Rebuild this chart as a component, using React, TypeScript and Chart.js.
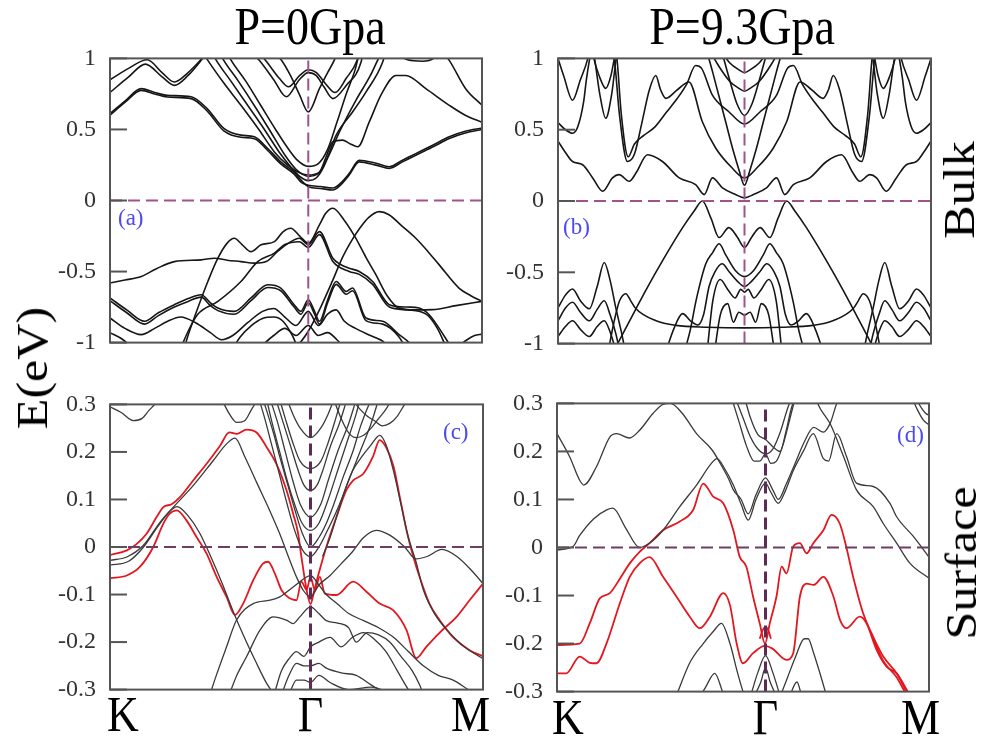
import React, { useEffect, useRef } from "react";
import { Chart, registerables } from "chart.js";

Chart.register(...registerables);

type Pt = [number, number];

// ---------------- axis data ----------------
const bulkTicks = [-1, -0.5, 0, 0.5, 1];
const bulkTickLabels = ["-1", "-0.5", "0", "0.5", "1"];
const surfTicks = [-0.3, -0.2, -0.1, 0, 0.1, 0.2, 0.3];
const surfTickLabels = ["-0.3", "-0.2", "-0.1", "0", "0.1", "0.2", "0.3"];
const kLabels = ["K", "Γ", "M"];
const titles = ["P=0Gpa", "P=9.3Gpa"];
const panelTags = ["(a)", "(b)", "(c)", "(d)"];
const rowLabels = ["Bulk", "Surface"];
const yTitle = "E(eV)";

// position of Γ along each path (0 = K, 100 = M)
const gammaA = 53.3;
const gammaB = 50;
const gammaC = 53.75;
const gammaD = 56.05;

// ---------------- panel (a): bulk, P = 0 ----------------
const a_c1: Pt[] = [[0,0.85],[5,0.93],[10,0.99],[14,0.9],[17.3,0.834],[21,0.9],[24.4,0.99],[26,1.04]];
const a_c2: Pt[] = [[0,0.76],[5,0.87],[9.5,0.96],[14,0.87],[17.3,0.81],[21,0.88],[24,0.97],[26,1.04]];
const a_c3: Pt[] = [[0,0.612],[4,0.7],[8.4,0.787],[12,0.76],[15.4,0.74],[21.8,0.73],[26.1,0.647],[30.6,0.507],[35.2,0.46],[38.8,0.448],[42.4,0.366],[45.9,0.272],[49.5,0.2],[51.5,0.14],[53.3,0.097],[56.5,0.085],[59.9,0.074],[62,0.11],[64.3,0.179],[67,0.272],[71.5,0.249],[75.1,0.226],[78.5,0.27],[82.2,0.319],[87,0.38],[91.2,0.436],[95.5,0.475],[100,0.5]];
const a_c3b: Pt[] = [[0,0.6],[4,0.69],[8.4,0.775],[12,0.75],[15.4,0.728],[21.8,0.717],[26.1,0.63],[30.6,0.49],[35.2,0.445],[38.8,0.435],[42.4,0.352],[45.9,0.258],[49.5,0.186],[51.5,0.125],[53.3,0.108],[56.5,0.098],[59.9,0.088],[62,0.122],[64.3,0.19],[67,0.283],[71.5,0.262],[75.1,0.238],[78.5,0.282],[82.2,0.33],[87,0.392],[91.2,0.448],[95.5,0.487],[100,0.51]];
const a_c4: Pt[] = [[25,1.04],[26.3,0.986],[30.5,0.83],[35.2,0.67],[40,0.5],[44.2,0.342],[47.7,0.25],[50.5,0.2],[53.3,0.179],[56.3,0.2],[58,0.3],[59.9,0.413],[62.5,0.425],[64.5,0.4],[66.6,0.378],[69.7,0.553],[73,0.75],[76.9,0.88],[79.5,0.88],[84.9,0.787],[91.2,0.67],[95.5,0.6],[100,0.55]];
const a_c5: Pt[] = [[27.5,1.04],[28.5,0.99],[32.5,0.84],[37,0.67],[41.5,0.5],[45.5,0.34],[48.5,0.24],[51,0.17],[53.3,0.14],[55.5,0.16],[57.5,0.24],[60.8,0.46],[65.2,0.623],[68.8,0.763],[73.3,0.974],[74,1.04]];
const a_c6: Pt[] = [[29.5,1.04],[30.5,0.99],[34.5,0.84],[39,0.66],[43.5,0.47],[47,0.32],[50,0.22],[53.3,0.17],[56,0.19],[58.5,0.3],[62,0.5],[66,0.7],[70,0.88],[72,0.99],[73,1.04]];
const a_c7: Pt[] = [[31.5,1.04],[32.5,0.99],[36.5,0.84],[40.5,0.67],[44.5,0.5],[47.5,0.38],[50.5,0.28],[53.3,0.24],[56,0.26],[58.5,0.36],[61,0.55],[63.5,0.75],[66,0.93],[67,1.04]];
const a_c8: Pt[] = [[44,1.04],[46,0.99],[48.5,0.88],[50.9,0.747],[53.3,0.623],[56.3,0.787],[58.5,0.9],[60.5,1.0],[61,1.04]];
const a_c9: Pt[] = [[38,1.04],[40,0.99],[44,0.85],[47.4,0.73],[50.9,0.85],[53.3,0.9],[55.4,0.88],[57.5,0.8],[59.9,0.717],[63.5,0.81],[67.5,0.974],[68,1.04]];
const a_c10: Pt[] = [[40,1.04],[42,0.98],[45.5,0.86],[48,0.8],[51,0.88],[53.3,0.92],[55.5,0.9],[58,0.82],[60.5,0.76],[63.5,0.86],[66.5,0.99],[67,1.04]];
const a_c11: Pt[] = [[89.5,1.04],[91.2,0.986],[95.6,0.787],[100,0.67]];
const a_c12: Pt[] = [[76,1.04],[80,0.99],[84,0.98],[87,1.0],[88,1.04]];

const a_v1: Pt[] = [[20,-1.04],[20.5,-0.99],[23.6,-0.757],[26.3,-0.57],[29,-0.406],[31.5,-0.3],[33.4,-0.266],[35.5,-0.31],[37.9,-0.36],[40.6,-0.312],[44.2,-0.289],[46.5,-0.22],[48.6,-0.195],[51,-0.25],[53.3,-0.3],[56.3,-0.172],[58,-0.09],[59.9,-0.055],[63,-0.14],[66.1,-0.266],[68.8,-0.4],[71.5,-0.523],[74.5,-0.67],[77.7,-0.757],[82,-0.77],[86.7,-0.768],[93,-0.74],[100,-0.71]];
const a_v2: Pt[] = [[50,-1.04],[53.3,-0.92],[56.3,-0.77],[59.9,-0.56],[62.5,-0.4],[65,-0.28],[67,-0.2],[69.5,-0.12],[72.4,-0.078],[75,-0.1],[78.5,-0.18],[82.2,-0.266],[85.5,-0.36],[88.5,-0.453],[93.8,-0.616],[97,-0.67],[100,-0.71]];
const a_v3: Pt[] = [[0,-0.581],[4,-0.56],[8.4,-0.535],[12.5,-0.48],[17.3,-0.43],[24.5,-0.418],[28.1,-0.406],[31.5,-0.42],[35.2,-0.43],[38.8,-0.441],[42,-0.43],[45,-0.36],[48,-0.3],[50.9,-0.266],[53.3,-0.31],[56.3,-0.219],[59.9,-0.406],[62,-0.45],[64.3,-0.476],[67,-0.5],[70.6,-0.57],[75.1,-0.733],[80,-0.75],[83.1,-0.757],[85.8,-0.804],[88.5,-0.9],[91.2,-1.01],[92,-1.04]];
const a_v3b: Pt[] = [[19,-1.04],[21,-0.92],[23.6,-0.8],[29,-0.71],[35.2,-0.57],[39.7,-0.43],[44.2,-0.37],[47,-0.31],[50.9,-0.29],[53.3,-0.33],[56.3,-0.24],[59.9,-0.43],[64.3,-0.5],[67,-0.52],[70.6,-0.59],[75.1,-0.75],[80,-0.77],[85,-0.8],[88,-0.9],[90.5,-1.04]];
const a_v4: Pt[] = [[0,-0.686],[4.5,-0.77],[9.3,-0.85],[13,-0.79],[17.3,-0.733],[21,-0.69],[24.5,-0.663],[27,-0.72],[29,-0.757],[33.4,-0.78],[37.9,-0.686],[42.4,-0.593],[45.9,-0.616],[49.5,-0.733],[51.3,-0.78],[53.3,-0.698],[55,-0.78],[56.3,-0.85],[58.5,-0.7],[60.8,-0.57],[63.5,-0.64],[65.2,-0.616],[68.8,-0.827],[73.3,-0.85],[77.7,-0.944],[80.4,-1.0],[81.5,-1.04]];
const a_v4b: Pt[] = [[0,-0.705],[4.5,-0.79],[9.3,-0.87],[13,-0.81],[17.3,-0.75],[21,-0.71],[24.5,-0.68],[27,-0.74],[29,-0.775],[33.4,-0.8],[37.9,-0.705],[42.4,-0.612],[45.9,-0.635],[49.5,-0.75],[51.3,-0.8],[53.3,-0.72],[55,-0.8],[56.3,-0.87],[58.5,-0.72],[60.8,-0.59],[63.5,-0.66],[65.2,-0.635],[68.8,-0.845],[73.3,-0.87],[77.7,-0.96],[79.5,-1.04]];
const a_v5: Pt[] = [[0,-0.827],[4,-0.9],[8.4,-0.944],[12,-0.9],[15.5,-0.85],[19,-0.82],[23,-0.86],[27,-0.93],[30,-0.98],[33,-0.95],[37,-0.86],[41,-0.78],[44,-0.76],[47,-0.82],[50,-0.88],[53.3,-0.78],[56,-0.88],[58.5,-0.8],[60.8,-0.77],[63,-0.85],[66,-0.9],[70,-0.95],[73.3,-0.99],[75,-1.04]];
const a_v6: Pt[] = [[0,-0.93],[3.5,-0.98],[6,-1.04]];
const a_v7: Pt[] = [[40,-1.04],[44,-0.95],[47,-0.9],[50,-0.95],[53.3,-0.88],[56,-0.95],[58.5,-0.93],[61,-0.98],[63,-1.04]];
const a_v8: Pt[] = [[33,-1.04],[35,-0.96],[38,-0.88],[41,-0.83],[44,-0.82],[46.5,-0.85],[49,-0.95],[50.5,-1.04]];
const a_v9: Pt[] = [[93,-1.04],[96,-0.98],[98,-0.95],[100,-0.94]];

// ---------------- panel (b): bulk, P = 9.3 GPa ----------------
const b_c1: Pt[] = [[0,0.42],[2,0.34],[3.9,0.277],[6.6,0.254],[9.3,0.162],[12,0.068],[14.6,0.162],[16.4,0.185],[19.1,0.138],[20.9,0.196],[24,0.324],[28,0.277],[32.5,0.162],[36.9,0.115],[39.2,0.045],[41.4,0.162],[44.1,0.092],[47.6,0.045],[50,0.022],[52.4,0.045],[55.9,0.092],[58.6,0.162],[60.8,0.045],[63.1,0.115],[67.5,0.162],[72,0.277],[76,0.324],[79.1,0.196],[80.9,0.138],[83.6,0.185],[85.4,0.162],[88,0.068],[90.7,0.162],[93.4,0.254],[96.1,0.277],[98,0.34],[100,0.42]];
const b_c2: Pt[] = [[14.8,1.04],[15.1,1.0],[16.5,0.6],[18.6,0.277],[20.5,0.33],[22.5,0.55],[24.5,0.78],[26.2,0.88],[27.5,0.78],[28.9,0.72],[32,0.78],[35.1,0.835],[38.7,0.556],[42.3,0.37],[46.7,0.231],[50,0.162],[53.3,0.231],[57.7,0.37],[61.3,0.556],[64.9,0.835],[68,0.78],[71.1,0.72],[72.5,0.78],[73.8,0.88],[75.5,0.78],[77.5,0.55],[79.5,0.33],[81.4,0.277],[83.5,0.6],[84.9,1.0],[85.2,1.04]];
const b_c3: Pt[] = [[15.5,1.04],[15.8,1.0],[17,0.6],[18.8,0.31],[20.5,0.4],[23,0.46],[26,0.52],[29,0.62],[32,0.72],[34.5,0.82],[36.9,0.95],[38.5,0.93],[41.4,0.742],[45.8,0.626],[50,0.54],[54.2,0.626],[58.6,0.742],[61.5,0.93],[63.1,0.95],[65.5,0.82],[68,0.72],[71,0.62],[74,0.52],[77,0.46],[79.5,0.4],[81.2,0.31],[83,0.6],[84.2,1.0],[84.5,1.04]];
const b_c4: Pt[] = [[41,1.04],[43,0.95],[46,0.84],[48.5,0.79],[50,0.77],[51.5,0.79],[54,0.84],[57,0.95],[59,1.04]];
const b_c5: Pt[] = [[44,1.04],[46,0.97],[48.5,0.92],[50,0.9],[51.5,0.92],[54,0.97],[56,1.04]];
const b_c6: Pt[] = [[40,1.04],[41.5,0.9],[43,0.75],[45,0.55],[47,0.35],[48.5,0.22],[50,0.11],[51.5,0.22],[53,0.35],[55,0.55],[57,0.75],[58.5,0.9],[60,1.04]];
const b_c7: Pt[] = [[44,1.04],[46,0.85],[48,0.68],[50,0.6],[52,0.68],[54,0.85],[56,1.04]];
const b_t1: Pt[] = [[0,1.0],[1.5,0.88],[3.9,0.707],[6,0.85],[8,1.0],[8.3,1.04]];
const b_t2: Pt[] = [[0,0.55],[2,0.5],[3.9,0.475],[5.3,0.52],[6.9,0.7],[7.6,0.85],[8.5,1.0],[8.8,1.04]];
const b_t3: Pt[] = [[9.3,1.04],[9.6,1.0],[11,0.88],[12.8,0.79],[14.2,0.88],[15.1,1.0],[15.4,1.04]];
const b_t4: Pt[] = [[9.5,1.04],[9.8,1.0],[11.2,0.75],[12.8,0.58],[14.4,0.75],[15.6,1.0],[15.9,1.04]];
const b_t5: Pt[] = [[91.7,1.04],[92,1.0],[94,0.85],[96.1,0.707],[98.5,0.88],[100,1.0]];
const b_t6: Pt[] = [[91.2,1.04],[91.5,1.0],[92.4,0.85],[93.1,0.7],[94.7,0.52],[96.1,0.475],[98,0.5],[100,0.55]];
const b_t7: Pt[] = [[84.6,1.04],[84.9,1.0],[85.8,0.88],[87.2,0.79],[89,0.88],[90.4,1.0],[90.7,1.04]];
const b_t8: Pt[] = [[84.1,1.04],[84.4,1.0],[85.6,0.75],[87.2,0.58],[88.8,0.75],[90.2,1.0],[90.5,1.04]];

const b_v1: Pt[] = [[15,-1.05],[18,-0.9],[20.9,-0.756],[23.5,-0.628],[28,-0.42],[33.4,-0.187],[36.5,-0.07],[38.7,0.0],[41,-0.12],[43.2,-0.256],[45.8,-0.187],[48,-0.25],[50,-0.326],[52,-0.25],[54.2,-0.187],[56.8,-0.256],[59,-0.12],[61.3,0.0],[63.5,-0.07],[66.6,-0.187],[72,-0.42],[76.5,-0.628],[79.1,-0.756],[82,-0.9],[85,-1.05]];
const b_v2: Pt[] = [[13.5,-1.05],[15,-0.85],[16.5,-0.7],[18.2,-0.65],[19.5,-0.7],[20.9,-0.756],[26.3,-0.84],[31.6,-0.872],[40,-0.885],[50,-0.89],[60,-0.885],[68.4,-0.872],[73.7,-0.84],[79.1,-0.756],[80.5,-0.7],[81.8,-0.65],[83.5,-0.7],[85,-0.85],[86.5,-1.05]];
const b_v3: Pt[] = [[34,-1.05],[35.5,-0.9],[37,-0.7],[39.6,-0.442],[41.5,-0.36],[43.2,-0.3],[45,-0.38],[47.6,-0.489],[50,-0.53],[52.4,-0.489],[55,-0.38],[56.8,-0.3],[58.5,-0.36],[60.4,-0.442],[63,-0.7],[64.5,-0.9],[66,-1.05]];
const b_v4: Pt[] = [[29,-1.05],[31,-0.9],[33.4,-0.79],[35.5,-0.84],[37.5,-0.87],[39,-0.8],[40.5,-0.6],[42,-0.5],[44,-0.44],[46,-0.5],[48,-0.56],[50,-0.6],[52,-0.56],[54,-0.5],[56,-0.44],[58,-0.5],[59.5,-0.6],[61,-0.8],[62.5,-0.87],[64.5,-0.84],[66.6,-0.79],[69,-0.9],[71,-1.05]];
const b_v5: Pt[] = [[40,-1.05],[41.5,-0.7],[43.5,-0.55],[45.5,-0.62],[47.5,-0.68],[49,-0.62],[50,-0.64],[51,-0.62],[52.5,-0.68],[54.5,-0.62],[56.5,-0.55],[58.5,-0.7],[60,-1.05]];
const b_v6: Pt[] = [[42,-1.05],[43.5,-0.8],[45.5,-0.72],[47,-0.85],[48.5,-0.78],[50,-0.8],[51.5,-0.78],[53,-0.85],[54.5,-0.72],[56.5,-0.8],[58,-1.05]];
const b_vL1: Pt[] = [[0,-0.75],[2,-0.66],[3.9,-0.617],[6,-0.7],[8.4,-0.756],[10.5,-0.6],[12.4,-0.431],[14,-0.56],[15.5,-0.75],[17,-0.92],[18,-1.05]];
const b_vL2: Pt[] = [[0,-0.84],[2,-0.75],[3.9,-0.71],[6,-0.78],[8.4,-0.84],[10.5,-0.76],[12.4,-0.7],[14,-0.8],[15.5,-0.93],[16.5,-1.05]];
const b_vL3: Pt[] = [[0,-0.95],[2,-0.88],[3.9,-0.84],[6,-0.9],[8.4,-0.95],[10.5,-0.88],[12.4,-0.84],[14,-0.92],[15.5,-1.05]];
const b_vR1: Pt[] = [[82,-1.05],[83,-0.92],[84.5,-0.75],[86,-0.56],[87.6,-0.431],[89.5,-0.6],[91.6,-0.756],[94,-0.7],[96.1,-0.617],[98,-0.66],[100,-0.75]];
const b_vR2: Pt[] = [[83.5,-1.05],[84.5,-0.93],[86,-0.8],[87.6,-0.7],[89.5,-0.76],[91.6,-0.84],[94,-0.78],[96.1,-0.71],[98,-0.75],[100,-0.84]];
const b_vR3: Pt[] = [[84.5,-1.05],[86,-0.92],[87.6,-0.84],[89.5,-0.88],[91.6,-0.95],[94,-0.9],[96.1,-0.84],[98,-0.88],[100,-0.95]];

// ---------------- panel (c): surface, P = 0 ----------------
const c_r1: Pt[] = [[0,-0.017],[4.5,-0.007],[7.1,0.006],[9.8,0.028],[12.5,0.063],[14.3,0.084],[16.5,0.09],[18.75,0.105],[22.3,0.14],[25.9,0.175],[29.5,0.213],[32,0.241],[34,0.238],[36.6,0.247],[39.3,0.241],[42,0.21],[44.6,0.175],[47.3,0.12],[49.1,0.07],[50.4,0.03],[51.3,-0.02],[52.7,-0.09],[53.75,-0.12],[54.8,-0.09],[55.8,-0.06],[58,0.0],[60.7,0.063],[63.4,0.12],[65.2,0.14],[67.9,0.154],[70.5,0.19],[72.3,0.225],[74,0.21],[76,0.17],[77.7,0.105],[79.5,0.035],[81.3,-0.02],[83,-0.063],[85.7,-0.12],[88.4,-0.154],[92,-0.19],[96.4,-0.217],[100,-0.23]];
const c_r2: Pt[] = [[0,-0.066],[4.5,-0.06],[8,-0.042],[11.6,0.0],[14.3,0.049],[16,0.07],[17.9,0.077],[20.5,0.056],[23.2,0.021],[25.9,-0.014],[28.6,-0.063],[31.25,-0.105],[33.5,-0.143],[35.7,-0.119],[38.4,-0.07],[41,-0.035],[42.4,-0.031],[44.2,-0.056],[46,-0.091],[48.2,-0.108],[50,-0.112],[51.3,-0.073],[52.7,-0.09],[53.75,-0.063],[54.9,-0.09],[56.25,-0.063],[57.6,-0.098],[60.7,-0.101],[65.2,-0.073],[68.75,-0.094],[72.3,-0.119],[75.9,-0.133],[79.5,-0.175],[82.1,-0.234],[84.8,-0.21],[88.4,-0.18],[92.9,-0.147],[96.4,-0.112],[100,-0.077]];
const c_k1: Pt[] = [[0,0.295],[3,0.283],[6.25,0.266],[8.5,0.27],[10.5,0.288],[12,0.3],[13,0.31]];
const c_k2: Pt[] = [[0,-0.028],[4.5,-0.021],[8.9,0.003],[13.4,0.052],[17,0.084],[22.3,0.129],[27.7,0.182],[31.25,0.217],[33.5,0.229],[36.2,0.189],[39.3,0.136],[42.4,0.084],[45.5,0.028],[48.2,-0.028],[50,-0.063],[51.8,-0.091],[53.75,-0.105],[56,-0.08],[59,-0.06],[62,-0.035],[65,-0.01],[68,0.02],[71.4,0.035],[75,0.025],[79,0.0],[82,-0.025],[85,-0.02],[89,-0.005],[93,-0.02],[97,-0.05],[100,-0.077]];
const c_k3: Pt[] = [[30,0.31],[32,0.28],[34,0.262],[36,0.265],[38,0.29],[39.5,0.31]];
const c_k4: Pt[] = [[0,-0.038],[5,-0.03],[9,0.0],[13,0.045],[16,0.075],[18,0.085],[21,0.065],[24,0.03],[27,-0.02],[30,-0.075],[33,-0.135],[36,-0.19],[39,-0.24],[42,-0.287],[44,-0.31]];
const c_k5: Pt[] = [[26.8,-0.31],[28.5,-0.27],[31.25,-0.21],[33.9,-0.154],[38.4,-0.119],[42.9,-0.112],[45.5,-0.105],[49.1,-0.084],[52.7,-0.063],[53.75,-0.06],[56,-0.08],[58,-0.1],[61,-0.12],[64,-0.14],[68,-0.155],[72,-0.17],[76,-0.19],[80,-0.22],[84,-0.25],[88,-0.27],[92,-0.28],[96,-0.3],[98,-0.31]];
const c_k6: Pt[] = [[32,-0.31],[34,-0.27],[36.6,-0.231],[40.2,-0.175],[43.75,-0.147],[47.3,-0.154],[49.1,-0.161],[50.9,-0.147],[53.75,-0.126],[56,-0.14],[58,-0.155],[61,-0.16],[64,-0.17],[66,-0.2],[69,-0.18],[72,-0.185],[75,-0.2],[78,-0.23],[81,-0.26],[83,-0.29],[84,-0.31]];
const c_k7: Pt[] = [[44,-0.31],[46,-0.26],[48,-0.235],[50,-0.22],[52,-0.23],[53.75,-0.21],[56,-0.2],[59,-0.19],[62,-0.21],[65,-0.19],[68,-0.18],[71,-0.195],[74,-0.22],[77,-0.26],[80,-0.3],[81,-0.31]];
const c_k8: Pt[] = [[46,-0.31],[48,-0.27],[50,-0.245],[52,-0.25],[53.75,-0.25],[56,-0.245],[58,-0.255],[62,-0.265],[66,-0.27],[70,-0.29],[74,-0.31]];
const c_k9: Pt[] = [[48,-0.31],[50,-0.28],[52,-0.28],[53.75,-0.285],[56,-0.27],[59,-0.285],[64,-0.3],[70,-0.295],[76,-0.31]];
const c_k11: Pt[] = [[57,-0.02],[59,0.02],[61,0.07],[63,0.12],[65,0.16],[67.5,0.19],[70,0.215],[72.3,0.235],[74,0.215],[76,0.16],[78,0.09],[80,0.02],[82,-0.03],[84,-0.09],[87,-0.14],[91,-0.18],[95,-0.21],[100,-0.235]];
const c_k12: Pt[] = [[65,0.31],[67,0.29],[69,0.275],[71,0.265],[73,0.255],[75,0.26],[77,0.275],[79,0.3],[80,0.31]];
const c_k14: Pt[] = [[60,0.31],[62,0.27],[64,0.24],[66,0.23],[68,0.235],[70,0.25],[72,0.27],[74,0.29],[75.5,0.31]];
const c_g1: Pt[] = [[41,0.31],[42,0.287],[44,0.235],[45.5,0.19],[47.5,0.135],[49.5,0.08],[51.5,0.03],[53.75,0.0],[56,0.02],[58,0.05],[60,0.09],[62.5,0.147],[65.2,0.203],[67,0.25],[68.75,0.287],[70,0.31]];
const c_g2: Pt[] = [[43,0.31],[45,0.26],[47,0.2],[49,0.14],[51,0.09],[53.75,0.063],[56.5,0.09],[58.5,0.14],[61,0.2],[64,0.26],[66,0.31]];
const c_g3: Pt[] = [[44.5,0.31],[46.5,0.26],[48.5,0.21],[50.5,0.16],[52,0.13],[53.75,0.119],[55.5,0.13],[57,0.16],[59,0.21],[61.5,0.26],[63.5,0.31]];
const c_g4: Pt[] = [[47.5,0.31],[49,0.28],[51,0.25],[53.75,0.23],[56.5,0.25],[58.5,0.28],[60,0.31]];
const c_g5: Pt[] = [[40,0.31],[41.5,0.27],[43.5,0.21],[45.5,0.15],[47.5,0.09],[49.5,0.035],[51.5,-0.005],[53.75,-0.02],[56,0.0],[58,0.03],[61,0.08],[64,0.14],[67,0.2],[70,0.26],[72,0.31]];
const c_g6: Pt[] = [[42,0.31],[43.5,0.26],[45.5,0.2],[47.5,0.14],[49.5,0.09],[51.5,0.05],[53.75,0.035],[56,0.05],[58.5,0.1],[61,0.16],[63.5,0.22],[66,0.28],[67,0.31]];
const c_g7: Pt[] = [[45.5,0.31],[47,0.27],[49,0.22],[51,0.18],[53.75,0.165],[56.5,0.18],[58.5,0.22],[60.5,0.27],[62,0.31]];

// ---------------- panel (d): surface, P = 9.3 GPa ----------------
const d_r1: Pt[] = [[0,-0.203],[6.1,-0.2],[8.8,-0.158],[11.5,-0.106],[14.2,-0.095],[16.9,-0.065],[19.55,-0.033],[22.2,-0.009],[24.9,0.009],[28.5,0.036],[33,0.054],[36.6,0.078],[39.3,0.133],[42,0.106],[44.7,0.092],[47.4,0.036],[49.1,-0.019],[50.9,-0.04],[52.7,-0.102],[54.5,-0.158],[55.9,-0.2],[57.2,-0.158],[59,-0.102],[60.4,-0.04],[61.7,-0.054],[63.5,0.002],[65.3,0.009],[67.1,-0.012],[68.9,0.009],[71.6,0.036],[73.8,0.068],[76,0.05],[77.8,0.0],[79.6,-0.061],[82.3,-0.137],[85,-0.186],[87.7,-0.227],[91.3,-0.262],[94,-0.3],[95,-0.31]];
const d_r2: Pt[] = [[0,-0.262],[2.5,-0.262],[6.1,-0.227],[8.8,-0.24],[10.6,-0.241],[13.3,-0.2],[16.9,-0.116],[19.55,-0.061],[22.2,-0.033],[24.9,-0.02],[28.5,-0.061],[32.1,-0.102],[35.7,-0.144],[38.4,-0.168],[41.1,-0.144],[44.7,-0.095],[46.5,-0.12],[48.3,-0.2],[50,-0.241],[52.7,-0.22],[55.9,-0.205],[57.8,-0.21],[61.7,-0.234],[63.5,-0.22],[65.3,-0.102],[67.1,-0.075],[69,-0.078],[71.6,-0.061],[74.3,-0.102],[76.1,-0.151],[77.8,-0.168],[81.4,-0.144],[83.2,-0.158],[85.9,-0.213],[88.6,-0.248],[91.3,-0.262],[94,-0.296],[95,-0.31]];
const d_r3: Pt[] = [[54.5,-0.19],[55.3,-0.172],[56.05,-0.166],[56.8,-0.172],[57.5,-0.19]];
const d_r4: Pt[] = [[85,-0.19],[87.7,-0.236],[91.3,-0.27],[93.5,-0.3],[94.5,-0.31]];
const d_k1: Pt[] = [[0,0.237],[3.4,0.189],[6.1,0.14],[7.2,0.13],[10.6,0.168],[14.2,0.23],[16,0.237],[19.5,0.228],[22.2,0.244],[25.8,0.279],[28.5,0.298],[30.5,0.3],[33.6,0.28],[37.5,0.237],[41.7,0.203],[44.4,0.168],[46.3,0.14],[47.4,0.12],[49.5,0.1],[51.4,0.07],[53.5,0.11],[56.05,0.145],[58,0.12],[59.5,0.1],[61.5,0.13],[64,0.175],[66.5,0.22],[69,0.25],[71.6,0.24],[73.5,0.26],[75.2,0.3],[76,0.31]];
const d_k2: Pt[] = [[0,-0.005],[4.3,0.002],[6.1,0.025],[9.9,0.06],[13.5,0.079],[15,0.082],[18.5,0.04],[22.2,0.0],[25,0.01],[28.5,0.036],[33,0.085],[37.5,0.13],[41.5,0.175],[43,0.185],[45,0.165],[47.4,0.13],[49.5,0.09],[51.4,0.057],[53.5,0.1],[56.05,0.134],[57.5,0.115],[59.5,0.092],[61.5,0.12],[63.5,0.16],[66.2,0.2],[68.9,0.237],[71.6,0.185],[73,0.18],[75.2,0.237],[77.8,0.19],[80.5,0.134],[85,0.127],[89.5,0.092],[91.3,0.064],[95.8,0.023],[100,-0.02]];
const d_k3: Pt[] = [[69.5,0.31],[70.7,0.29],[73.4,0.258],[77,0.19],[80.5,0.12],[85,0.085],[87.7,0.05],[91.3,0.009],[94.9,-0.033],[100,-0.064]];
const d_k4: Pt[] = [[47,0.31],[49,0.26],[51,0.21],[53,0.18],[54.5,0.18],[56.05,0.195],[57.5,0.175],[59,0.18],[61,0.22],[63,0.28],[64,0.31]];
const d_k5: Pt[] = [[48,0.31],[50,0.27],[52,0.23],[54,0.205],[56.05,0.195],[58,0.205],[60,0.24],[62,0.29],[63,0.31]];
const d_k6: Pt[] = [[50.5,0.31],[52,0.27],[54,0.235],[56.05,0.225],[58,0.21],[60,0.2],[61.5,0.24],[63,0.29],[64,0.31]];
const d_k7: Pt[] = [[32,-0.31],[32.5,-0.3],[35.7,-0.24],[39.3,-0.2],[42,-0.175],[44.2,-0.158],[46.5,-0.2],[48.5,-0.26],[50,-0.3],[50.5,-0.31]];
const d_k8: Pt[] = [[38.5,-0.31],[40,-0.29],[42.4,-0.262],[44.5,-0.3],[45,-0.31]];
const d_k9: Pt[] = [[52,-0.31],[54,-0.26],[56.05,-0.225],[58,-0.26],[60,-0.31]];
const d_k10: Pt[] = [[53,-0.31],[54.8,-0.28],[56.05,-0.25],[57.3,-0.28],[59,-0.31]];
const d_k11: Pt[] = [[60,-0.31],[62,-0.27],[64,-0.23],[66.5,-0.19],[67.5,-0.19],[69,-0.22],[71,-0.27],[72.5,-0.31]];
const d_k12: Pt[] = [[62.5,-0.31],[64.5,-0.28],[65.8,-0.31]];
const d_k13: Pt[] = [[95.5,0.31],[97,0.285],[98.5,0.265],[100,0.255]];
const d_k14: Pt[] = [[96.5,0.31],[98,0.29],[99,0.28],[100,0.275]];

// ---------------- styling ----------------
const SERIF = "'Liberation Serif', 'Times New Roman', Times, serif";
const BULK_BLACK = "#161616";
const SURF_BLACK = "#3a3a3a";
const RED = "#e3171f";
const FRAME = "#555555";

type Band = { pts: Pt[]; color: string; width: number };
const blk = (pts: Pt[]): Band => ({ pts, color: BULK_BLACK, width: 1.6 });
const sblk = (pts: Pt[]): Band => ({ pts, color: SURF_BLACK, width: 1.3 });
const red = (pts: Pt[]): Band => ({ pts, color: RED, width: 1.8 });

const bandsA: Band[] = [a_c1,a_c2,a_c3,a_c3b,a_c4,a_c5,a_c6,a_c7,a_c8,a_c9,a_c10,a_c11,a_c12,a_v1,a_v2,a_v3,a_v3b,a_v4,a_v4b,a_v5,a_v6,a_v7,a_v8,a_v9].map(blk);
const bandsB: Band[] = [b_c1,b_c2,b_c3,b_c4,b_c5,b_c6,b_c7,b_t1,b_t2,b_t3,b_t4,b_t5,b_t6,b_t7,b_t8,b_v1,b_v2,b_v3,b_v4,b_v5,b_v6,b_vL1,b_vL2,b_vL3,b_vR1,b_vR2,b_vR3].map(blk);
const bandsC: Band[] = [
  ...[c_k1,c_k2,c_k3,c_k4,c_k5,c_k6,c_k7,c_k8,c_k9,c_k11,c_k12,c_k14,c_g1,c_g2,c_g3,c_g4,c_g5,c_g6,c_g7].map(sblk),
  ...[c_r1,c_r2].map(red),
];
const bandsD: Band[] = [
  ...[d_k1,d_k2,d_k3,d_k4,d_k5,d_k6,d_k7,d_k8,d_k9,d_k10,d_k11,d_k12,d_k13,d_k14].map(sblk),
  ...[d_r1,d_r2,d_r3,d_r4].map(red),
];

const AXW = 60;
const PADV = 20;
const PADR = 12;

const framePlugin = {
  id: "frameTicks",
  afterDatasetsDraw(chart: any) {
    const { ctx, chartArea } = chart;
    const { left, top, right, bottom } = chartArea;
    ctx.save();
    ctx.strokeStyle = FRAME;
    ctx.lineWidth = 2;
    ctx.strokeRect(left, top, right - left, bottom - top);
    const ys = chart.scales.y;
    ys.ticks.forEach((t: any) => {
      const y = ys.getPixelForValue(t.value);
      ctx.beginPath();
      ctx.moveTo(left, y);
      ctx.lineTo(left + 17, y);
      ctx.stroke();
    });
    ctx.restore();
  },
};

type PanelProps = {
  L: number; T: number; R: number; B: number;
  yMin: number; yMax: number; ticks: number[]; tickLabels: string[];
  gamma: number; bands: Band[];
  hDash: string; vDash: string; hW: number; vW: number;
};

function BandPanel(p: PanelProps) {
  const ref = useRef<HTMLCanvasElement>(null);
  const w = p.R - p.L + AXW + PADR;
  const h = p.B - p.T + 2 * PADV;
  useEffect(() => {
    if (!ref.current) return;
    const datasets: any[] = p.bands.map((b) => ({
      data: b.pts.map(([x, y]) => ({ x, y })),
      borderColor: b.color,
      borderWidth: b.width,
      pointRadius: 0,
      fill: false,
      cubicInterpolationMode: "monotone",
    }));
    datasets.unshift({
      data: [{ x: 0, y: 0 }, { x: 100, y: 0 }],
      borderColor: p.hDash, borderWidth: p.hW, borderDash: [12, 6], pointRadius: 0, fill: false,
    });
    datasets.unshift({
      data: [{ x: p.gamma, y: p.yMin }, { x: p.gamma, y: p.yMax }],
      borderColor: p.vDash, borderWidth: p.vW, borderDash: [12, 6], pointRadius: 0, fill: false,
    });
    const chart = new Chart(ref.current, {
      type: "line",
      data: { datasets },
      options: {
        responsive: false,
        animation: false,
        devicePixelRatio: 1,
        events: [],
        layout: { padding: { left: 0, right: PADR, top: PADV, bottom: PADV } },
        plugins: { legend: { display: false }, tooltip: { enabled: false } },
        scales: {
          x: { type: "linear", min: 0, max: 100, display: false },
          y: {
            type: "linear",
            min: p.yMin,
            max: p.yMax,
            afterFit: (s: any) => { s.width = AXW; },
            afterBuildTicks: (s: any) => { s.ticks = p.ticks.map((v) => ({ value: v })); },
            grid: { display: false },
            border: { display: false },
            ticks: {
              autoSkip: false,
              padding: 6,
              color: "#333",
              font: { family: SERIF, size: 24 },
              callback: (_v: any, i: number) => p.tickLabels[i],
            },
          },
        },
      } as any,
      plugins: [framePlugin],
    });
    return () => chart.destroy();
  }, []);
  return (
    <canvas
      ref={ref}
      width={w}
      height={h}
      style={{ position: "absolute", left: p.L - AXW, top: p.T - PADV, width: w, height: h }}
    />
  );
}

const hText = (text: string, cx: number, top: number, size: number, extra: any = {}) => (
  <div
    style={{
      position: "absolute", left: cx - 150, top, width: 300, textAlign: "center",
      fontFamily: SERIF, fontSize: size, lineHeight: `${size}px`, color: "#000",
      transform: "scaleY(1.14)", whiteSpace: "nowrap", ...extra,
    }}
  >
    {text}
  </div>
);

const vText = (text: string, cx: number, cy: number, size: number) => (
  <div
    style={{
      position: "absolute", left: cx, top: cy, fontFamily: SERIF, fontSize: size,
      lineHeight: `${size}px`, color: "#000", whiteSpace: "nowrap",
      transform: "translate(-50%, -50%) rotate(-90deg) scaleX(1.14)",
    }}
  >
    {text}
  </div>
);

const tag = (text: string, left: number, top: number) => (
  <div
    style={{
      position: "absolute", left, top, fontFamily: SERIF, fontSize: 23,
      lineHeight: "23px", color: "#4b4bf0", whiteSpace: "nowrap",
    }}
  >
    {text}
  </div>
);

export default function App() {
  return (
    <div style={{ position: "absolute", left: 0, top: 0, width: 983, height: 742, background: "#fff", overflow: "hidden" }}>
      <BandPanel L={110} T={58} R={482} B={343} yMin={-1} yMax={1} ticks={bulkTicks} tickLabels={bulkTickLabels}
        gamma={gammaA} bands={bandsA} hDash="#a0538b" vDash="#a0538b" hW={2} vW={2} />
      <BandPanel L={558} T={58} R={931} B={344} yMin={-1} yMax={1} ticks={bulkTicks} tickLabels={bulkTickLabels}
        gamma={gammaB} bands={bandsB} hDash="#a0538b" vDash="#a0538b" hW={2} vW={2} />
      <BandPanel L={110} T={404} R={483} B={690} yMin={-0.3} yMax={0.3} ticks={surfTicks} tickLabels={surfTickLabels}
        gamma={gammaC} bands={bandsC} hDash="#6e3d66" vDash="#5e2b55" hW={2} vW={3} />
      <BandPanel L={557} T={403} R={929} B={692} yMin={-0.3} yMax={0.3} ticks={surfTicks} tickLabels={surfTickLabels}
        gamma={gammaD} bands={bandsD} hDash="#6e3d66" vDash="#5e2b55" hW={2} vW={3} />

      {hText(titles[0], 310, 4, 46)}
      {hText(titles[1], 742, 4, 46)}

      {hText(kLabels[0], 123, 693, 44)}
      {hText(kLabels[1], 310.5, 693, 44)}
      {hText(kLabels[2], 470.5, 693, 44)}
      {hText(kLabels[0], 568, 696, 44)}
      {hText(kLabels[1], 765.5, 696, 44)}
      {hText(kLabels[2], 920.5, 696, 44)}

      {vText(yTitle, 33, 368, 44)}
      {vText(rowLabels[0], 960, 190, 44)}
      {vText(rowLabels[1], 962, 563, 44)}

      {tag(panelTags[0], 118, 206)}
      {tag(panelTags[1], 563, 215)}
      {tag(panelTags[2], 443, 420)}
      {tag(panelTags[3], 897, 423)}
    </div>
  );
}
